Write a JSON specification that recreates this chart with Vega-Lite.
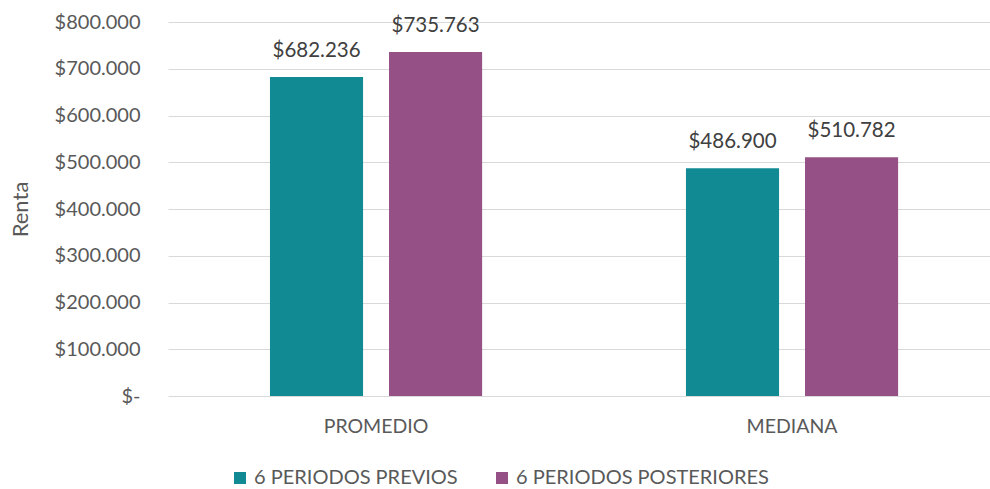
{
  "$schema": "https://vega.github.io/schema/vega-lite/v6.json",
  "width": 822,
  "height": 374,
  "autosize": {"type": "none"},
  "padding": {"left": 168, "top": 22, "right": 0, "bottom": 93},
  "background": "white",
  "config": {
    "locale": {"number": {"decimal": ",", "thousands": ".", "grouping": [3], "currency": ["$", ""]}},
    "font": "Lato",
    "view": {"stroke": null},
    "axis": {"labelColor": "#595959", "titleColor": "#595959", "labelFont": "Lato", "titleFont": "Lato"}
  },
  "data": {
    "values": [
      {"categoria": "PROMEDIO", "periodo": "6 PERIODOS PREVIOS", "renta": 682236},
      {"categoria": "PROMEDIO", "periodo": "6 PERIODOS POSTERIORES", "renta": 735763},
      {"categoria": "MEDIANA", "periodo": "6 PERIODOS PREVIOS", "renta": 486900},
      {"categoria": "MEDIANA", "periodo": "6 PERIODOS POSTERIORES", "renta": 510782}
    ]
  },
  "encoding": {
    "x": {
      "field": "categoria", "type": "nominal", "sort": ["PROMEDIO", "MEDIANA"],
      "scale": {"paddingInner": 0.49, "paddingOuter": 0.233, "align": 0.526},
      "axis": {"title": null, "labelAngle": 0, "domain": false, "ticks": false, "labelFontSize": 19.5, "labelPadding": 21}
    },
    "xOffset": {
      "field": "periodo", "type": "nominal", "sort": ["6 PERIODOS PREVIOS", "6 PERIODOS POSTERIORES"],
      "scale": {"paddingInner": 0.218, "paddingOuter": 0}
    },
    "y": {
      "field": "renta", "type": "quantitative",
      "scale": {"domain": [0, 800000], "nice": false},
      "axis": {
        "title": "Renta", "titleFontSize": 22, "titleFontWeight": "normal", "titlePadding": 22,
        "values": [0, 100000, 200000, 300000, 400000, 500000, 600000, 700000, 800000],
        "format": "$,.0f",
        "labelExpr": "datum.value === 0 ? '$-' : datum.label",
        "labelFontSize": 20, "labelPadding": 28,
        "domain": false, "ticks": false,
        "gridColor": "#D9D9D9", "gridWidth": 1.2
      }
    }
  },
  "layer": [
    {
      "mark": {"type": "bar"},
      "encoding": {
        "color": {
          "field": "periodo", "type": "nominal", "sort": ["6 PERIODOS PREVIOS", "6 PERIODOS POSTERIORES"],
          "scale": {"domain": ["6 PERIODOS PREVIOS", "6 PERIODOS POSTERIORES"], "range": ["#128A94", "#955085"]},
          "legend": {
            "title": null, "orient": "none", "direction": "horizontal",
            "legendX": 62, "legendY": 446,
            "symbolType": "square", "symbolSize": 144, "symbolStrokeWidth": 0,
            "labelFontSize": 20, "labelColor": "#595959", "labelFont": "Lato", "labelLimit": 0,
            "columnPadding": 34, "labelOffset": 4
          }
        }
      }
    },
    {
      "mark": {"type": "text", "baseline": "alphabetic", "dy": -20, "fontSize": 20.5, "color": "#404040", "font": "Lato"},
      "encoding": {
        "text": {"field": "renta", "type": "quantitative", "format": "$,.0f"}
      }
    }
  ]
}
